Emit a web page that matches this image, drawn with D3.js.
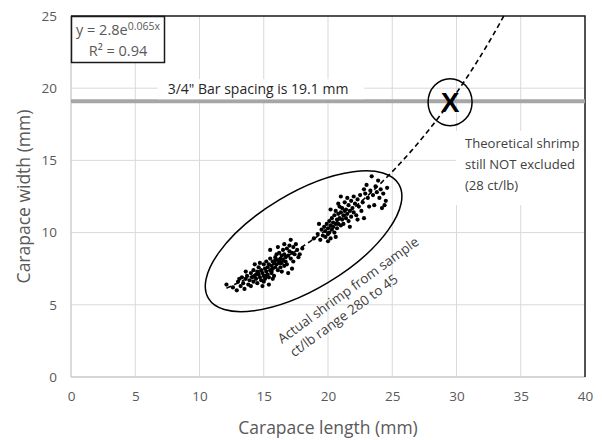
<!DOCTYPE html>
<html>
<head>
<meta charset="utf-8">
<script src="https://cdn.jsdelivr.net/npm/d3@7"></script>
<style>
  html, body { margin: 0; padding: 0; background: #fff; }
  svg { display: block; font-family: "Open Sans", "Noto Sans", sans-serif; }
</style>
</head>
<body>
<svg id="chart" width="602" height="440"></svg>
<script>
// Measured shrimp: carapace length (mm), carapace width (mm)
const shrimpLength = [
  12.1, 12.6, 12.9, 13.0, 13.2, 13.3, 13.4, 13.5, 13.6, 13.7, 13.8, 13.9, 14.0, 14.0, 14.1, 14.2, 14.2, 14.3,
  14.4, 14.5, 14.5, 14.6, 14.6, 14.7, 14.8, 14.8, 14.9, 15.0, 15.0, 15.1, 15.1, 15.2, 15.2, 15.3, 15.3, 15.4,
  15.4, 15.5, 15.5, 15.6, 15.6, 15.7, 15.7, 15.8, 15.8, 15.9, 15.9, 16.0, 16.0, 16.1, 16.1, 16.2, 16.2, 16.3,
  16.3, 16.4, 16.4, 16.5, 16.5, 16.6, 16.6, 16.7, 16.8, 16.8, 16.9, 17.0, 17.0, 17.1, 17.2, 17.3, 17.3, 17.4,
  17.5, 17.6, 17.7, 17.8, 18.0, 14.9, 15.4, 16.9, 17.2, 15.5, 16.1, 13.1, 14.3, 16.6, 17.1, 15.0, 15.7, 16.4,
  14.4, 15.2, 15.9, 16.7, 13.6, 14.7, 15.6, 16.3,
  18.9, 19.2, 19.4, 19.5, 19.6, 19.7, 19.8, 19.8, 19.9, 20.0, 20.0, 20.1, 20.1, 20.2, 20.2, 20.3, 20.3, 20.4,
  20.4, 20.5, 20.5, 20.6, 20.6, 20.7, 20.7, 20.8, 20.8, 20.9, 20.9, 21.0, 21.0, 21.1, 21.1, 21.2, 21.2, 21.3,
  21.3, 21.4, 21.4, 21.5, 21.5, 21.6, 21.6, 21.7, 21.8, 21.8, 21.9, 22.0, 22.0, 22.1, 22.2, 22.3, 22.4, 22.5,
  22.6, 22.7, 22.8, 22.9, 20.0, 20.6, 19.3, 21.0, 20.2, 22.3, 21.7, 20.8,
  23.0, 23.1, 23.2, 23.3, 23.4, 23.5, 23.6, 23.7, 23.8, 24.0, 24.1, 24.2, 24.3, 24.6, 24.5, 23.9, 22.8, 24.4
];
const shrimpWidth = [
  6.4, 6.2, 6.0, 6.6, 6.3, 6.9, 6.5, 6.1, 6.8, 7.0, 6.4, 6.7, 7.2, 6.3, 6.9, 7.4, 6.6, 7.0,
  6.8, 7.3, 6.5, 7.1, 7.6, 6.9, 7.4, 6.7, 7.2, 7.8, 7.0, 7.5, 6.8, 7.3, 8.0, 7.6, 7.1, 7.8,
  6.9, 7.4, 8.2, 7.7, 7.2, 8.0, 7.5, 7.9, 7.0, 8.3, 7.6, 7.8, 8.5, 7.4, 8.1, 7.9, 8.6, 8.2,
  7.6, 8.4, 7.9, 8.8, 8.1, 7.7, 8.5, 8.3, 8.9, 7.8, 8.4, 8.7, 9.1, 8.2, 8.6, 9.0, 8.0, 8.5,
  9.2, 8.8, 8.3, 8.5, 8.9, 6.3, 6.4, 7.2, 7.5, 8.8, 9.0, 6.8, 7.8, 9.2, 9.5, 6.6, 6.8, 7.3,
  7.1, 7.0, 8.1, 8.0, 7.3, 7.9, 7.3, 7.9,
  9.6, 9.9, 9.5, 10.2, 9.8, 10.4, 9.7, 10.1, 10.6, 9.9, 10.3, 10.8, 10.0, 10.5, 9.6, 11.0, 10.2, 10.7,
  10.4, 11.2, 10.0, 10.6, 11.5, 10.9, 10.3, 11.3, 10.6, 11.0, 11.8, 10.5, 11.4, 10.9, 11.7, 11.2, 10.6, 11.5,
  12.1, 11.0, 11.6, 12.4, 11.3, 10.8, 11.9, 11.5, 12.2, 11.1, 11.7, 12.5, 11.4, 12.0, 11.2, 12.3, 11.8, 12.6,
  11.5, 12.1, 11.0, 12.7, 9.4, 9.7, 10.6, 12.5, 11.6, 10.9, 10.4, 12.0,
  13.3, 12.4, 11.8, 12.9, 13.9, 12.6, 11.9, 13.2, 12.8, 12.4, 13.0, 11.7, 12.7, 13.1, 12.2, 13.6, 13.0, 11.9
];

// Exponential fit shown in the equation box: y = a * e^(b x)
const fitA = 2.8;
const fitB = 0.065;
const fitR2 = 0.94;
const fitStart = 12.1;

// Bar spacing and the theoretical shrimp that would still pass through it
const barSpacing = 19.1;
const theoreticalLength = 29.5;

const xTicks = [0, 5, 10, 15, 20, 25, 30, 35, 40];
const yTicks = [0, 5, 10, 15, 20, 25];

const svg = d3.select("#chart");
const x = d3.scaleLinear().domain([0, 40]).range([71, 585]);
const y = d3.scaleLinear().domain([0, 25]).range([377, 16]);

const textGrey = "#595959";
const gridGrey = "#d9d9d9";

// Gridlines
svg.append("g").selectAll("line").data(xTicks.slice(1, -1)).join("line")
  .attr("x1", d => x(d)).attr("x2", d => x(d))
  .attr("y1", y(0)).attr("y2", y(25))
  .attr("stroke", gridGrey).attr("stroke-width", 1);
svg.append("g").selectAll("line").data(yTicks.slice(1, -1)).join("line")
  .attr("x1", x(0)).attr("x2", x(40))
  .attr("y1", d => y(d)).attr("y2", d => y(d))
  .attr("stroke", gridGrey).attr("stroke-width", 1);

// Axis lines
svg.append("line").attr("x1", x(0)).attr("x2", x(40)).attr("y1", y(0)).attr("y2", y(0))
  .attr("stroke", "#c8c8c8").attr("stroke-width", 1.3);
svg.append("line").attr("x1", x(0)).attr("x2", x(0)).attr("y1", y(0)).attr("y2", y(25))
  .attr("stroke", "#c8c8c8").attr("stroke-width", 1.3);
// Dark frame on top and right
svg.append("path")
  .attr("d", `M${x(0)},${y(25)}H${x(40)}V${y(0)}`)
  .attr("fill", "none").attr("stroke", "#1a1a1a").attr("stroke-width", 1.5);

const xAxis = d3.axisBottom(x).tickValues(xTicks).tickSize(0).tickPadding(14);
svg.append("g").attr("transform", `translate(0,${y(0)})`).call(xAxis)
  .call(g => g.select(".domain").remove())
  .selectAll("text").attr("font-size", 13.5).attr("fill", textGrey).attr("font-family", "Open Sans, sans-serif");
const yAxis = d3.axisLeft(y).tickValues(yTicks).tickSize(0).tickPadding(14);
svg.append("g").attr("transform", `translate(${x(0)},0)`).call(yAxis)
  .call(g => g.select(".domain").remove())
  .selectAll("text").attr("font-size", 13.5).attr("fill", textGrey).attr("font-family", "Open Sans, sans-serif");

// Axis titles
svg.append("text").attr("x", (x(0) + x(40)) / 2).attr("y", 434)
  .attr("text-anchor", "middle").attr("font-size", 17.5).attr("fill", textGrey)
  .text("Carapace length (mm)");
svg.append("text").attr("transform", `translate(30,${(y(0) + y(25)) / 2}) rotate(-90)`)
  .attr("text-anchor", "middle").attr("font-size", 17.5).attr("fill", textGrey)
  .text("Carapace width (mm)");

// Bar spacing line
svg.append("line").attr("x1", x(0)).attr("x2", x(40)).attr("y1", y(barSpacing)).attr("y2", y(barSpacing))
  .attr("stroke", "#a6a6a6").attr("stroke-width", 4);

// Bar spacing label on a white patch
const barLabel = svg.append("g");
const barText = barLabel.append("text").attr("x", 258).attr("y", y(barSpacing) - 7)
  .attr("text-anchor", "middle").attr("font-size", 14).attr("fill", "#262626")
  .text('3/4" Bar spacing is 19.1 mm');
const bb = barText.node().getBBox();
barLabel.insert("rect", "text").attr("x", bb.x - 10).attr("y", bb.y).attr("width", bb.width + 26)
  .attr("height", y(barSpacing) - 2 - bb.y).attr("fill", "#fff");

// Trendline (dashed), drawn until it leaves the plot at the top
const fitEnd = Math.log(25 / fitA) / fitB;
const fitPts = d3.range(fitStart, fitEnd, 0.1).concat([fitEnd]).map(v => [v, fitA * Math.exp(fitB * v)]);
svg.append("path").datum(fitPts)
  .attr("d", d3.line().x(d => x(d[0])).y(d => y(d[1])))
  .attr("fill", "none").attr("stroke", "#000").attr("stroke-width", 1.6)
  .attr("stroke-dasharray", "5,3.5");

// Shrimp scatter
svg.append("g").selectAll("circle").data(d3.range(shrimpLength.length)).join("circle")
  .attr("cx", i => x(shrimpLength[i])).attr("cy", i => y(shrimpWidth[i]))
  .attr("r", 2.1).attr("fill", "#000");

// Ellipse around the measured shrimp
svg.append("ellipse")
  .attr("transform", `translate(${x(18.1)},${y(9.4)}) rotate(-31)`)
  .attr("rx", 111).attr("ry", 48)
  .attr("fill", "none").attr("stroke", "#000").attr("stroke-width", 1.5);

// Rotated annotation for the sample
const sampleNote = svg.append("g")
  .attr("transform", "translate(282,344) rotate(-36)")
  .attr("font-size", 13.5).attr("fill", "#404040");
sampleNote.append("text").attr("x", 0).attr("y", 0).text("Actual shrimp from sample");
sampleNote.append("text").attr("x", 2).attr("y", 18).text("ct/lb range 280 to 45");

// Theoretical shrimp marker
const tx = x(theoreticalLength), ty = y(barSpacing);
svg.append("ellipse").attr("cx", tx).attr("cy", ty + 1).attr("rx", 22).attr("ry", 23.5)
  .attr("fill", "none").attr("stroke", "#000").attr("stroke-width", 1.5);
svg.append("text").attr("x", tx).attr("y", ty + 11).attr("text-anchor", "middle")
  .attr("font-size", 28).attr("font-weight", "bold").attr("fill", "#000")
  .attr("font-family", "Liberation Sans, Arial, sans-serif").text("X");

// Theoretical shrimp note on white patch
const theoNote = svg.append("g");
theoNote.append("rect").attr("x", 456).attr("y", 131).attr("width", x(40) - 457).attr("height", 74).attr("fill", "#fff");
["Theoretical shrimp", "still NOT excluded", "(28 ct/lb)"].forEach((t, i) => {
  theoNote.append("text").attr("x", 465).attr("y", 148 + i * 21)
    .attr("font-size", 13.1).attr("fill", "#404040").text(t);
});

// Equation box
const eq = svg.append("g");
eq.append("rect").attr("x", x(0) + 0.5).attr("y", y(25) + 0.5).attr("width", 93).attr("height", 46)
  .attr("fill", "#fff").attr("stroke", "#1a1a1a").attr("stroke-width", 1.5);
const eqText = eq.append("text").attr("x", 76).attr("y", 35).attr("font-size", 14.5).attr("fill", textGrey);
eqText.append("tspan").text(`y = ${fitA}e`);
eqText.append("tspan").attr("dy", -5.5).attr("font-size", 10.5).text(`${fitB}x`);
eq.append("text").attr("x", 118).attr("y", 56).attr("text-anchor", "middle").attr("font-size", 14.5)
  .attr("fill", textGrey).text(`R² = ${fitR2}`);
</script>
</body>
</html>
